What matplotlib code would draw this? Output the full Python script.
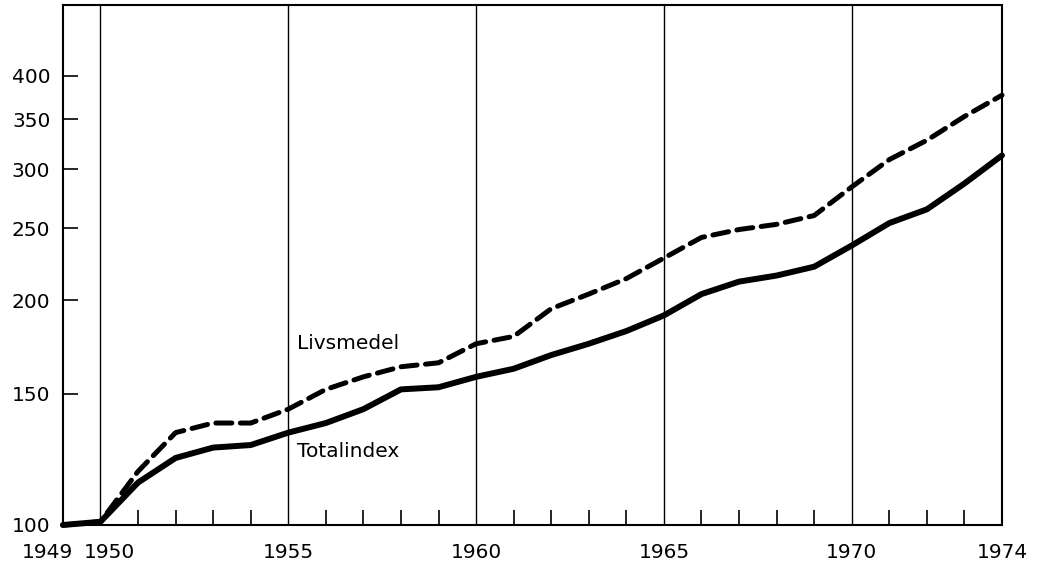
import matplotlib
matplotlib.use("Agg")
import matplotlib.pyplot as plt
from matplotlib.ticker import NullLocator, FixedLocator
from matplotlib.transforms import ScaledTranslation

years = list(range(1949, 1975))
totalindex = [100, 101, 114, 123, 127, 128, 133, 137, 143, 152, 153, 158, 162,
              169, 175, 182, 191, 204, 212, 216, 222, 237, 254, 265, 287, 313]
livsmedel = [100, 101, 118, 133, 137, 137, 143, 152, 158, 163, 165, 175, 179,
             195, 204, 214, 228, 243, 249, 253, 260, 284, 309, 328, 353, 377]
y_ticks = [100, 150, 200, 250, 300, 350, 400]
x_labels = [1949, 1950, 1955, 1960, 1965, 1970, 1974]
grid_years = [1950, 1955, 1960, 1965, 1970]
minor_years = [y for y in years if y % 5 != 0 and y not in (1949, 1974)]

plt.rcParams['font.family'] = ['DejaVu Sans']
FS = 14.5

fig = plt.figure(figsize=(10.4, 5.71), dpi=100)
ax = fig.add_axes([62.9 / 1040, 46 / 571, (1002 - 62.9) / 1040, 520 / 571])
ax.set_yscale('log')
ax.set_xlim(1949, 1974)
ax.set_ylim(100, 498)

for g in grid_years:
    ax.axvline(g, color='black', lw=1.0, zorder=1)

ax.plot(years, livsmedel, color='black', lw=3.6, linestyle=(0, (3.2, 1.7)),
        dash_capstyle='round', clip_on=False, zorder=3)
ax.plot(years, totalindex, color='black', lw=4.3, solid_capstyle='round',
        solid_joinstyle='round', clip_on=False, zorder=4)

ax.text(1955.22, 175.4, 'Livsmedel', fontsize=FS, ha='left', va='center')
ax.text(1955.22, 125.3, 'Totalindex', fontsize=FS, ha='left', va='center')

ax.yaxis.set_major_locator(FixedLocator(y_ticks))
ax.yaxis.set_minor_locator(NullLocator())
ax.set_yticklabels([str(v) for v in y_ticks])
ax.tick_params(axis='y', which='major', direction='in', length=11, width=1.2,
               pad=9, labelsize=FS)

ax.set_xticks(x_labels)
ax.set_xticklabels([str(v) for v in x_labels])
ax.set_xticks(minor_years, minor=True)
ax.tick_params(axis='x', which='major', direction='in', length=0, pad=13,
               labelsize=FS)
ax.tick_params(axis='x', which='minor', direction='in', length=11, width=1.2)

labels = ax.get_xticklabels()
labels[0].set_transform(labels[0].get_transform() +
                        ScaledTranslation(-15 / 100, 0, fig.dpi_scale_trans))
labels[1].set_transform(labels[1].get_transform() +
                        ScaledTranslation(9 / 100, 0, fig.dpi_scale_trans))

for s in ax.spines.values():
    s.set_linewidth(1.5)

fig.savefig('out.png', dpi=100)
